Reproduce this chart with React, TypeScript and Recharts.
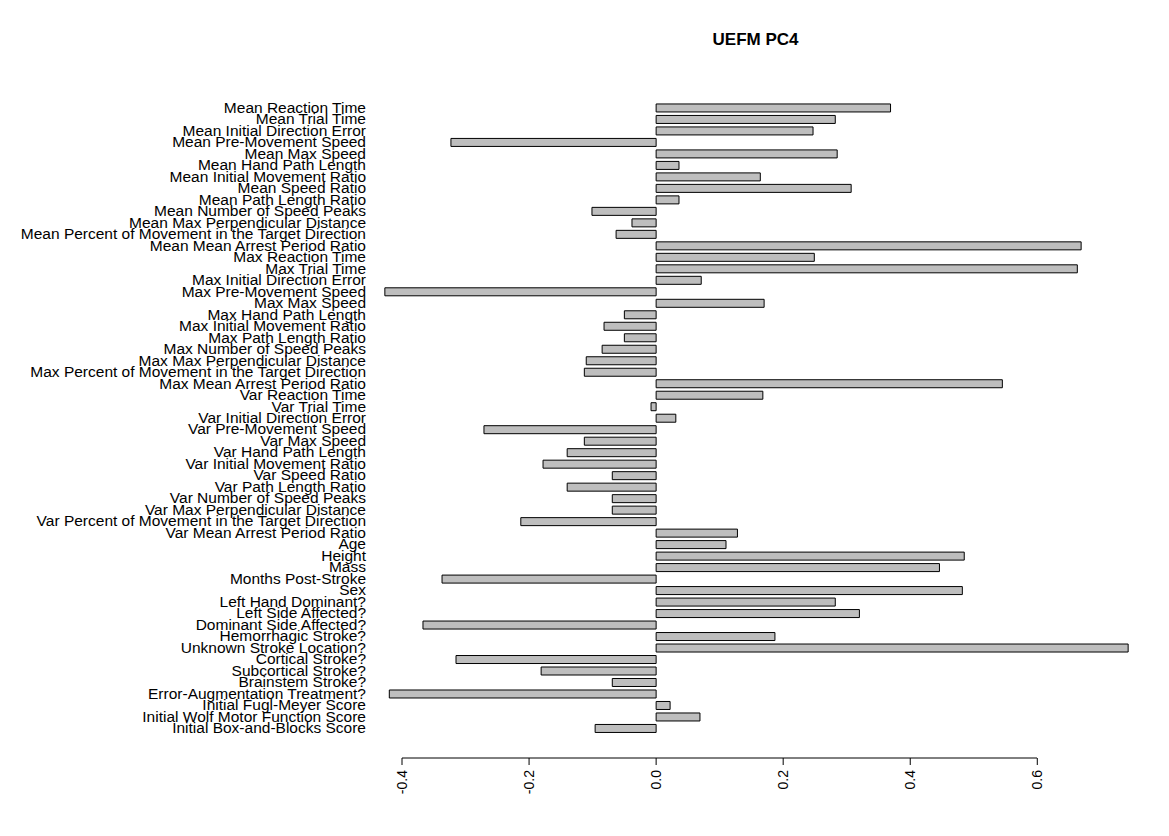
import { Bar, BarChart, XAxis, YAxis } from 'recharts';

const labels = [
  'Mean Reaction Time', 'Mean Trial Time', 'Mean Initial Direction Error', 'Mean Pre-Movement Speed',
  'Mean Max Speed', 'Mean Hand Path Length', 'Mean Initial Movement Ratio', 'Mean Speed Ratio',
  'Mean Path Length Ratio', 'Mean Number of Speed Peaks', 'Mean Max Perpendicular Distance',
  'Mean Percent of Movement in the Target Direction', 'Mean Mean Arrest Period Ratio',
  'Max Reaction Time', 'Max Trial Time', 'Max Initial Direction Error', 'Max Pre-Movement Speed',
  'Max Max Speed', 'Max Hand Path Length', 'Max Initial Movement Ratio', 'Max Path Length Ratio',
  'Max Number of Speed Peaks', 'Max Max Perpendicular Distance',
  'Max Percent of Movement in the Target Direction', 'Max Mean Arrest Period Ratio',
  'Var Reaction Time', 'Var Trial Time', 'Var Initial Direction Error', 'Var Pre-Movement Speed',
  'Var Max Speed', 'Var Hand Path Length', 'Var Initial Movement Ratio', 'Var Speed Ratio',
  'Var Path Length Ratio', 'Var Number of Speed Peaks', 'Var Max Perpendicular Distance',
  'Var Percent of Movement in the Target Direction', 'Var Mean Arrest Period Ratio',
  'Age', 'Height', 'Mass', 'Months Post-Stroke', 'Sex', 'Left Hand Dominant?', 'Left Side Affected?',
  'Dominant Side Affected?', 'Hemorrhagic Stroke?', 'Unknown Stroke Location?', 'Cortical Stroke?',
  'Subcortical Stroke?', 'Brainstem Stroke?', 'Error-Augmentation Treatment?',
  'Initial Fugl-Meyer Score', 'Initial Wolf Motor Function Score', 'Initial Box-and-Blocks Score',
];

const loadings = [
  0.369, 0.282, 0.247, -0.323, 0.285, 0.036, 0.164, 0.307, 0.036, -0.101, -0.038, -0.063, 0.669,
  0.249, 0.663, 0.071, -0.427, 0.17, -0.05, -0.082, -0.05, -0.085, -0.11, -0.113, 0.545,
  0.168, -0.008, 0.031, -0.271, -0.113, -0.14, -0.178, -0.069, -0.14, -0.069, -0.069, -0.213, 0.128,
  0.11, 0.485, 0.446, -0.337, 0.482, 0.282, 0.32, -0.367, 0.187, 0.743, -0.315, -0.181, -0.069,
  -0.42, 0.022, 0.069, -0.096,
];

const xTicks = [-0.4, -0.2, 0, 0.2, 0.4, 0.6];

const data = labels.map((name, i) => ({ name, value: loadings[i] }));

const font = '"Liberation Sans", Arial, sans-serif';

const YTick = ({ y, payload }: any) => (
  <text x={366} y={y} dy={5} textAnchor="end" fontSize={15.5} fontFamily={font} fill="#000">
    {payload.value}
  </text>
);

const XTick = ({ x, payload }: any) => (
  <g>
    <line x1={x} x2={x} y1={758} y2={765} stroke="#000" />
    <text
      transform={`translate(${x + 5},770) rotate(-90)`}
      textAnchor="end"
      fontSize={14}
      fontFamily={font}
      fill="#000"
    >
      {payload.value === 0 ? '0.0' : payload.value.toFixed(1)}
    </text>
  </g>
);

export default function App() {
  return (
    <div style={{ position: 'absolute', left: 0, top: 0, width: 1169, height: 836, background: '#fff' }}>
      <div
        style={{
          position: 'absolute', left: 354, width: 803, top: 30, textAlign: 'center',
          fontFamily: font, fontWeight: 'bold', fontSize: 17,
        }}
      >
        UEFM PC4
      </div>
      <BarChart
        width={1169}
        height={836}
        data={data}
        layout="vertical"
        margin={{ top: 102, right: 11, bottom: 0, left: 0 }}
        barCategoryGap="17%"
      >
        <XAxis
          type="number"
          domain={[-0.474, 0.79]}
          ticks={xTicks}
          axisLine={false}
          tickLine={false}
          tick={<XTick />}
          height={102}
        />
        <YAxis
          type="category"
          dataKey="name"
          width={355}
          axisLine={false}
          tickLine={false}
          interval={0}
          tick={<YTick />}
        />
        <line x1={402} x2={1037} y1={758} y2={758} stroke="#000" />
        <Bar dataKey="value" fill="#bebebe" stroke="#000" strokeWidth={1} isAnimationActive={false} />
      </BarChart>
    </div>
  );
}
